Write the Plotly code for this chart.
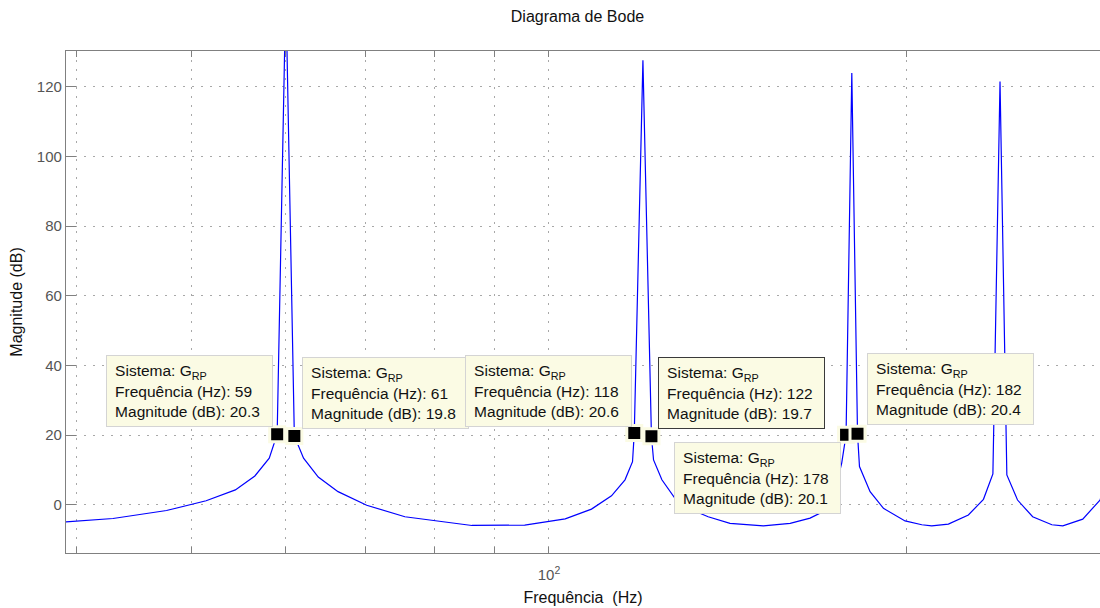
import numpy as np
import plotly.graph_objects as go

# Magnitude response of the resonant controller G_RP (frequency in Hz, magnitude in dB)
freq_hz = [38.6, 42.9, 47.6, 51.4, 54.4, 56.5, 58.1, 59, 60, 61, 62.1, 63.9, 66.4, 70.2,
           75.6, 79.9, 86.1, 95.4, 103.2, 108.6, 112.9, 115.9, 117.6, 118, 120, 122,
           122.5, 124.5, 127.7, 131.9, 136.2, 142.1, 151.6, 159.7, 166.0, 171.5, 174.3,
           176.5, 178, 180, 182, 182.7, 186.5, 191.4, 199.6, 206.2, 210.2, 217.1, 225.7,
           232.4, 236.7, 240, 243.2, 248.3, 255.7, 265.4, 271.1, 281.8, 291.4, 296.0]
mag_db = [-5.0, -3.9, -1.6, 1.2, 4.3, 8.3, 13.4, 20.3, 148.0, 19.8, 13.4, 8.0, 3.8, -0.1,
          -3.4, -4.5, -5.9, -5.8, -4.0, -1.2, 2.6, 7.2, 12.4, 20.6, 127.6, 19.7,
          12.9, 7.2, 1.9, -1.4, -3.4, -5.3, -6.0, -5.3, -3.8, -1.4, 4.5,
          12.0, 20.1, 123.9, 20.4, 11.0, 3.8, -1.0, -4.6, -5.7, -6.0, -5.5, -2.9,
          1.6, 8.9, 121.5, 8.6, 1.4, -3.4, -5.7, -6.0, -4.1, 1.4, 8.0]

# Data tips
tip_freq = [59, 61, 118, 122, 178, 182]
tip_mag = [20.3, 19.8, 20.6, 19.7, 20.1, 20.4]
# box placement relative to each tip: (xanchor, yanchor, xshift, yshift, border colour)
tip_place = [("right", "bottom", -4, 7, "#d4d4d4"),
             ("left", "bottom", 8, 7, "#d4d4d4"),
             ("right", "bottom", -2, 6, "#d4d4d4"),
             ("left", "bottom", 7, 7, "#3a3a3a"),
             ("right", "top", -5, -7, "#d4d4d4"),
             ("left", "bottom", 9, 9, "#d4d4d4")]

x_ticks = [40, 50, 60, 70, 80, 90, 100, 200]
x_ticktext = ["", "", "", "", "", "", "10<sup>2</sup>", ""]
y_ticks = [0, 20, 40, 60, 80, 100, 120]

FONT = "Liberation Sans, Arial, Helvetica, sans-serif"
TIP_BG = "#fbfbe4"

fig = go.Figure()
fig.add_trace(go.Scatter(x=freq_hz, y=mag_db, mode="lines",
                         line=dict(color="#0000ff", width=1.2),
                         hoverinfo="skip", showlegend=False))
fig.add_trace(go.Scatter(x=tip_freq, y=tip_mag, mode="markers",
                         marker=dict(symbol="square", size=15, color="black",
                                     line=dict(color=TIP_BG, width=3)),
                         hoverinfo="skip", showlegend=False))

annotations = []
for f, m, (xa, ya, xs, ys, bc) in zip(tip_freq, tip_mag, tip_place):
    lines = ["Sistema: G<sub>RP</sub>",
             f"Frequência (Hz): {f}",
             f"Magnitude (dB): {m:.1f}"]
    annotations.append(dict(
        x=np.log10(f), y=m, xref="x", yref="y", showarrow=False,
        xanchor=xa, yanchor=ya, xshift=xs, yshift=ys,
        text="<br>".join("&#8201;" + s for s in lines),
        align="left", width=155, height=60, valign="middle",
        bgcolor=TIP_BG, bordercolor=bc, borderwidth=1, borderpad=5,
        font=dict(family=FONT, size=15.5, color="#111111")))

fig.update_layout(
    width=1100, height=608,
    margin=dict(l=66, r=0, t=51, b=55),
    paper_bgcolor="white", plot_bgcolor="white",
    font=dict(family=FONT, size=15, color="#555555"),
    title=dict(text="Diagrama de Bode", x=0.4947, xref="paper", xanchor="center",
               y=1 - 16 / 608, yanchor="middle", yref="container",
               font=dict(family=FONT, size=16, color="#111111")),
    annotations=annotations,
    xaxis=dict(type="log", range=[np.log10(39.16), np.log10(291.4)],
               tickvals=x_ticks, ticktext=x_ticktext, ticklabelstandoff=8,
               showgrid=True, gridcolor="#a8a8a8", griddash="2px,7px", gridwidth=1,
               showline=True, linecolor="#808080", linewidth=1.3, mirror="ticks",
               ticks="inside", ticklen=6, tickcolor="#808080",
               zeroline=False,
               title=dict(text="Frequência  (Hz)", standoff=9,
                          font=dict(family=FONT, size=16, color="#111111"))),
    yaxis=dict(range=[-13.8, 130.24], tickvals=y_ticks,
               showgrid=True, gridcolor="#a8a8a8", griddash="2px,7px", gridwidth=1,
               showline=True, linecolor="#808080", linewidth=1.3,
               ticks="inside", ticklen=10, tickcolor="#808080",
               zeroline=False,
               title=dict(text="Magnitude (dB)", standoff=10,
                          font=dict(family=FONT, size=16, color="#111111"))),
)

fig.write_html("out.html")
